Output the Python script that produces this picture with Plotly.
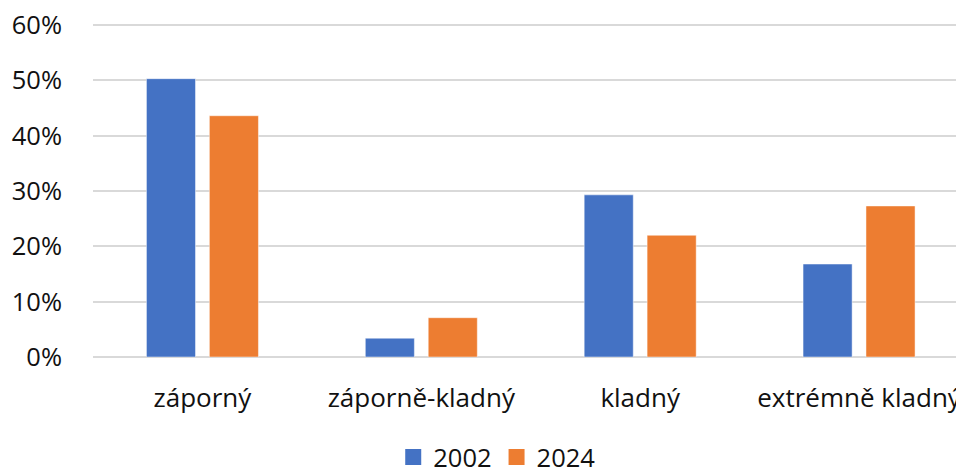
import plotly.graph_objects as go

categories = ["záporný", "záporně-kladný", "kladný", "extrémně kladný"]
series_names = ["2002", "2024"]
values_2002 = [0.503, 0.034, 0.293, 0.168]
values_2024 = [0.436, 0.071, 0.220, 0.273]
colors = ["#4472C4", "#ED7D31"]
y_ticks = [0, 0.1, 0.2, 0.3, 0.4, 0.5, 0.6]
y_tick_labels = ["0%", "10%", "20%", "30%", "40%", "50%", "60%"]

font_family = "Open Sans, Noto Sans, DejaVu Sans, sans-serif"
text_color = "#111111"
fs = 25.5

fig = go.Figure()
for name, vals, col in zip(series_names, [values_2002, values_2024], colors):
    fig.add_trace(go.Bar(
        x=categories, y=vals, name=name, showlegend=False,
        marker=dict(color=col, line=dict(color="rgba(255,255,255,0.6)", width=0.8)),
    ))
# legend entries with larger square swatches
for name, col in zip(series_names, colors):
    fig.add_trace(go.Scatter(
        x=[categories[0]], y=[None], name=name, mode="markers",
        marker=dict(symbol="square", size=17, color=col), showlegend=True,
    ))

W, H = 956, 470
left, top, bottom = 92.5, 22, 112.5
plot_h = H - top - bottom
y_top = 0.6 * plot_h / 332.5

fig.update_layout(
    width=W, height=H,
    margin=dict(l=left, r=0, t=top, b=bottom, autoexpand=False),
    paper_bgcolor="white", plot_bgcolor="white",
    barmode="group", bargap=0.425, bargroupgap=0.22,
    font=dict(family=font_family, size=fs, color=text_color),
    showlegend=True,
    legend=dict(orientation="h", x=0.4684, xanchor="center",
                y=-(458 - (H - bottom)) / plot_h, yanchor="middle",
                font=dict(size=fs, color=text_color), itemsizing="trace",
                tracegroupgap=0),
)
fig.update_xaxes(
    range=[-0.5, 3.5 - 12.5 / 219], showgrid=False, showline=False, zeroline=False,
    ticks="", automargin=False, ticklabelstandoff=23, ticklabeloverflow="allow",
    tickfont=dict(size=26, color=text_color), fixedrange=True,
)
fig.update_yaxes(
    range=[0, y_top], tickvals=y_ticks, ticktext=y_tick_labels,
    showgrid=True, gridcolor="#d9d9d9", gridwidth=1.5,
    zeroline=True, zerolinecolor="#d9d9d9", zerolinewidth=1.5,
    showline=False, ticks="", automargin=False, ticklabelstandoff=30,
    ticklabeloverflow="allow",
    tickfont=dict(size=fs, color=text_color), fixedrange=True,
)

fig.write_html(
    "out.html",
    config={"displayModeBar": False},
    post_script="document.body.style.margin='0';document.body.style.overflow='hidden';",
)
